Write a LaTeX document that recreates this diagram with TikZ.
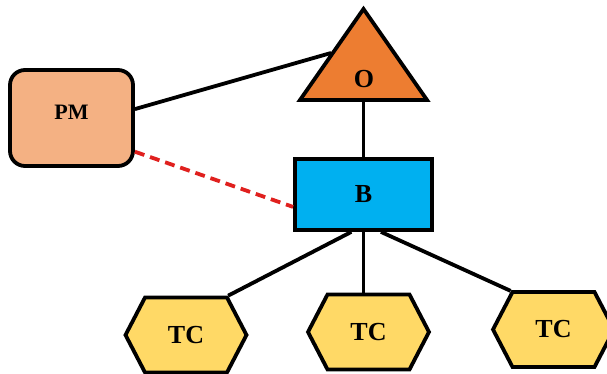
\documentclass[tikz,border=0pt]{standalone}
\usepackage{fontspec}
\setmainfont{Liberation Serif}
\usetikzlibrary{shapes.symbols}

\definecolor{ocol}{HTML}{ED7D31}
\definecolor{pmcol}{HTML}{F4B183}
\definecolor{bcol}{HTML}{00B0F0}
\definecolor{tccol}{HTML}{FFD966}
\definecolor{linkred}{HTML}{E0201E}

\tikzset{
  link/.style={line width=3.8pt},
  pmbox/.style={draw, line width=3.8pt, fill=pmcol, rounded corners=15pt,
    minimum width=123pt, minimum height=96pt, font=\fontsize{22}{24}\selectfont\bfseries},
  bbox/.style={draw, line width=3.8pt, fill=bcol,
    minimum width=137pt, minimum height=71pt, font=\fontsize{26}{28}\selectfont\bfseries},
  tcbox/.style={draw, line width=3.8pt, fill=tccol, signal, signal to=west and east,
    signal pointer angle=125, minimum width=121pt, minimum height=75pt,
    inner sep=0pt, font=\fontsize{26}{28}\selectfont\bfseries}
}

\begin{document}
\begin{tikzpicture}[x=1pt, y=-1pt]
    \useasboundingbox (0,0) rectangle (607,374);

    % O triangle
    \coordinate (O-left) at (300,100);
    \coordinate (O-top) at (363.5,9);
    \coordinate (O-right) at (427,100);
    \coordinate (O-base) at (363.5,100);
    \coordinate (O-side) at (331,53);
    \draw[line width=3.8pt, fill=ocol] (O-left) -- (O-top) -- (O-right) -- cycle;
    \node[font=\fontsize{26}{28}\selectfont\bfseries] (O) at (364,79) {O};

    % PM and B
    \node[pmbox] (PM) at (71.5,118) {\raisebox{12pt}{PM}};
    \node[bbox] (B) at (363.5,194.5) {B};

    % TC row
    \node[tcbox] (tcL) at (186,335) {TC};
    \node[tcbox] (tcM) at (368.5,332) {TC};
    \node[tcbox] (tcR) at (553.5,329.5) {TC};

    % links
    \draw[link] (PM.8) -- (O-side);
    \draw[link] (O-base) -- (B.north);
    \draw[line width=3.8pt, linkred, dash pattern=on 10pt off 6pt] (PM.-28) -- (B.190);
    \draw[link] (B.-108) -- (tcL.43);
    \draw[link] (B.south) -- (B.south |- tcM.north);
    \draw[link] (B.-65) -- (tcR.138);
\end{tikzpicture}
\end{document}
